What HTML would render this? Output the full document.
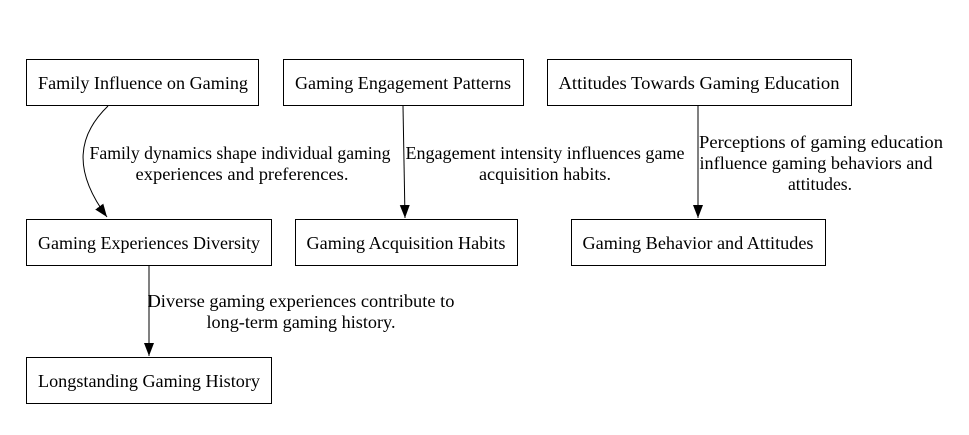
<!DOCTYPE html>
<html><head><meta charset="utf-8"><style>
body{margin:0;background:#fff;width:969px;height:430px;overflow:hidden}
svg text{font-family:"Liberation Serif",serif;font-size:17.5px;fill:#000}
</style></head><body>
<svg width="969" height="430" viewBox="0 0 969 430" xmlns="http://www.w3.org/2000/svg">
<defs><marker id="a" markerWidth="14" markerHeight="12" refX="13" refY="5.5" orient="auto" markerUnits="userSpaceOnUse"><path d="M0,0.5 L13,5.5 L0,10.5 z" fill="#000"/></marker></defs>
<g fill="none" stroke="#000" stroke-width="1">
<rect x="26.5" y="59.5" width="232" height="46"/>
<rect x="283.5" y="59.5" width="240" height="46"/>
<rect x="547.5" y="59.5" width="304" height="46"/>
<rect x="26.5" y="219.5" width="245" height="46"/>
<rect x="295.5" y="219.5" width="222" height="46"/>
<rect x="571.5" y="219.5" width="254" height="46"/>
<rect x="26.5" y="357.5" width="245" height="46"/>
<path d="M108,106 C78,135 72,170 107,217" marker-end="url(#a)"/>
<path d="M403,106 L405,218" marker-end="url(#a)"/>
<path d="M698,106 L698,218" marker-end="url(#a)"/>
<path d="M149,266 L149,356" marker-end="url(#a)"/>
</g>
<g text-anchor="middle">
<text x="143" y="89" textLength="210" lengthAdjust="spacingAndGlyphs">Family Influence on Gaming</text>
<text x="403" y="89" textLength="216" lengthAdjust="spacingAndGlyphs">Gaming Engagement Patterns</text>
<text x="699" y="89" textLength="281" lengthAdjust="spacingAndGlyphs">Attitudes Towards Gaming Education</text>
<text x="149" y="249" textLength="222" lengthAdjust="spacingAndGlyphs">Gaming Experiences Diversity</text>
<text x="406" y="249" textLength="199" lengthAdjust="spacingAndGlyphs">Gaming Acquisition Habits</text>
<text x="698" y="249" textLength="231" lengthAdjust="spacingAndGlyphs">Gaming Behavior and Attitudes</text>
<text x="149" y="387" textLength="222" lengthAdjust="spacingAndGlyphs">Longstanding Gaming History</text>
<text x="240" y="159" textLength="301" lengthAdjust="spacingAndGlyphs">Family dynamics shape individual gaming</text>
<text x="242" y="180" textLength="213" lengthAdjust="spacingAndGlyphs">experiences and preferences.</text>
<text x="545" y="159" textLength="279" lengthAdjust="spacingAndGlyphs">Engagement intensity influences game</text>
<text x="545" y="180" textLength="132" lengthAdjust="spacingAndGlyphs">acquisition habits.</text>
<text x="821" y="148" textLength="244" lengthAdjust="spacingAndGlyphs">Perceptions of gaming education</text>
<text x="816" y="169" textLength="233" lengthAdjust="spacingAndGlyphs">influence gaming behaviors and</text>
<text x="820" y="190" textLength="64" lengthAdjust="spacingAndGlyphs">attitudes.</text>
<text x="301" y="307" textLength="307" lengthAdjust="spacingAndGlyphs">Diverse gaming experiences contribute to</text>
<text x="301" y="328" textLength="189" lengthAdjust="spacingAndGlyphs">long-term gaming history.</text>
</g>
</svg>
</body></html>
